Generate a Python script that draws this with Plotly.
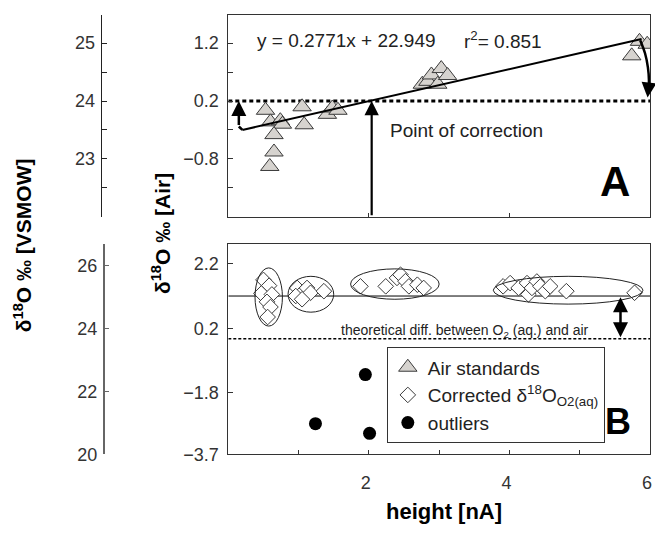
import plotly.graph_objects as go

# ---------------- data ----------------
# Panel A: air standards (height nA, d18O per mil vs Air)
air_x = [0.53, 0.60, 0.74, 0.77, 0.65, 0.65, 0.59, 1.05, 1.08, 1.41, 1.48, 1.56,
         2.76, 2.84, 2.89, 2.98, 3.03, 3.12, 5.74, 5.85, 5.96]
air_y = [0.04, -0.16, -0.14, -0.20, -0.38, -0.68, -0.93, 0.10, -0.21, -0.03, 0.08, 0.04,
         0.49, 0.54, 0.65, 0.49, 0.76, 0.64, 0.98, 1.23, 1.18]

# regression line end points
fit_x = [0.20, 5.88]
fit_y = [-0.30, 1.27]
ref_level_A = 0.2
correction_x = 2.04

# left connector + arrow, right curved arrow
left_conn_x = [0.20, 0.15]
left_conn_y = [-0.30, -0.24]
curve_x = [5.86, 5.93, 5.97, 5.985, 5.975]
curve_y = [1.25, 1.02, 0.78, 0.55, 0.38]

# Panel B: corrected d18O O2(aq)
corr_x = [0.50, 0.58, 0.47, 0.62, 0.55, 0.60, 0.56,
          0.98, 1.05, 0.96, 1.12, 1.17, 1.05, 1.36,
          1.88, 2.24, 2.40, 2.45, 2.52, 2.57, 2.69, 2.78,
          3.91, 4.01, 4.13, 4.25, 4.27, 4.32, 4.39, 4.44, 4.51, 4.58, 4.81, 5.78]
corr_y = [1.70, 1.52, 1.28, 1.25, 1.02, 0.86, 0.55,
          1.45, 1.30, 1.20, 1.45, 1.30, 1.10, 1.35,
          1.50, 1.50, 1.76, 1.86, 1.66, 1.50, 1.55, 1.45,
          1.50, 1.60, 1.45, 1.60, 1.25, 1.45, 1.65, 1.50, 1.35, 1.50, 1.35, 1.30]
out_x = [1.95, 1.24, 2.01]
out_y = [-1.23, -2.75, -3.05]

air_level_B = 1.2
theory_level_B = -0.12
diff_arrow_x = 5.58

# ellipses around groups (x0, x1, y0, y1)
ell_x0 = [0.38, 0.85, 1.74, 3.77]
ell_x1 = [0.77, 1.50, 3.00, 5.90]
ell_y0 = [0.27, 0.70, 1.10, 0.95]
ell_y1 = [2.07, 1.81, 2.04, 1.81]

# axes
A_range = [-1.8, 1.69]
A_ticks = [-0.8, 0.2, 1.2]
A_minor = [-1.3, -0.3, 0.7]
A_vs_range = [22.0, 25.49]
A_vs_ticks = [23, 24, 25]
A_vs_minor = [22.5, 23.5, 24.5]
B_range = [-3.7, 2.8]
B_ticks = [-3.7, -1.8, 0.2, 2.2]
B_vs_range = [20.0, 26.68]
B_vs_ticks = [20, 22, 24, 26]
x_ticks_A = [2, 4, 6]
x_ticks_B = [2, 4, 6]
x_minor_B = [1, 3, 5]

FONT = "Arial, Liberation Sans, sans-serif"
W, H = 655, 534


def px(x):
    return x / W


def py(y):
    return 1 - y / H


dx = [px(229), px(652)]
dA = [py(221), py(15)]
dB = [py(463), py(249)]

fig = go.Figure()

# Panel A traces
fig.add_trace(go.Scatter(x=[0, 6], y=[ref_level_A, ref_level_A], mode="lines",
                         line=dict(color="black", width=3, dash="4px,3px"),
                         showlegend=False, hoverinfo="skip", xaxis="x", yaxis="y"))
fig.add_trace(go.Scatter(x=air_x, y=air_y, mode="markers", name="Air standards",
                         marker=dict(symbol="triangle-up", size=16, color="#d6d3cf",
                                     line=dict(color="#3a3a3a", width=1)),
                         xaxis="x", yaxis="y"))
fig.add_trace(go.Scatter(x=fit_x, y=fit_y, mode="lines",
                         line=dict(color="black", width=2),
                         showlegend=False, hoverinfo="skip", xaxis="x", yaxis="y"))
fig.add_trace(go.Scatter(x=left_conn_x, y=left_conn_y, mode="lines",
                         line=dict(color="black", width=2.5),
                         showlegend=False, hoverinfo="skip", xaxis="x", yaxis="y"))
fig.add_trace(go.Scatter(x=curve_x, y=curve_y, mode="lines",
                         line=dict(color="black", width=2.5, shape="spline"),
                         showlegend=False, hoverinfo="skip", xaxis="x", yaxis="y", cliponaxis=False))

# Panel B traces
fig.add_trace(go.Scatter(x=[0, 6], y=[air_level_B, air_level_B], mode="lines",
                         line=dict(color="black", width=1),
                         showlegend=False, hoverinfo="skip", xaxis="x2", yaxis="y2"))
fig.add_trace(go.Scatter(x=[0, 6], y=[theory_level_B, theory_level_B], mode="lines",
                         line=dict(color="black", width=1.5, dash="3px,2px"),
                         showlegend=False, hoverinfo="skip", xaxis="x2", yaxis="y2"))
fig.add_trace(go.Scatter(x=corr_x, y=corr_y, mode="markers",
                         name="Corrected δ<sup>18</sup>O<sub>O2(aq)</sub>",
                         marker=dict(symbol="diamond", size=12, color="white",
                                     line=dict(color="#3a3a3a", width=1)),
                         xaxis="x2", yaxis="y2"))
fig.add_trace(go.Scatter(x=out_x, y=out_y, mode="markers", name="outliers",
                         marker=dict(symbol="circle", size=13, color="black"),
                         xaxis="x2", yaxis="y2"))

# dummy traces to activate VSMOW axes
fig.add_trace(go.Scatter(x=[None], y=[None], xaxis="x", yaxis="y3", showlegend=False, hoverinfo="skip"))
fig.add_trace(go.Scatter(x=[None], y=[None], xaxis="x2", yaxis="y4", showlegend=False, hoverinfo="skip"))

shapes = []
for x0, x1, y0, y1 in zip(ell_x0, ell_x1, ell_y0, ell_y1):
    shapes.append(dict(type="circle", xref="x2", yref="y2", x0=x0, x1=x1, y0=y0, y1=y1,
                       line=dict(color="#222", width=1)))

tickfont = dict(family=FONT, size=18, color="#333")
axline = "#333"

arrow_common = dict(showarrow=True, arrowhead=2, arrowcolor="black", text="")
annotations = [
    # point of correction arrow
    dict(x=correction_x, y=ref_level_A, ax=correction_x, ay=A_range[0], xref="x", yref="y",
         axref="x", ayref="y", arrowsize=1.3, arrowwidth=2.2, **arrow_common),
    # left arrow up to reference level
    dict(x=left_conn_x[1], y=ref_level_A, ax=left_conn_x[1], ay=left_conn_y[1], xref="x", yref="y",
         axref="x", ayref="y", arrowsize=1.2, arrowwidth=2.5, **arrow_common),
    # right curved arrow head
    dict(x=5.965, y=0.26, ax=curve_x[-1], ay=curve_y[-1], xref="x", yref="y",
         axref="x", ayref="y", arrowsize=1.2, arrowwidth=2.5, **arrow_common),
    # double arrow in B
    dict(x=diff_arrow_x, y=air_level_B - 0.04, ax=diff_arrow_x, ay=theory_level_B, xref="x2", yref="y2",
         axref="x2", ayref="y2", startarrowhead=2, arrowside="end+start",
         arrowsize=1.2, startarrowsize=1.2, arrowwidth=2.5, **arrow_common),
    # texts
    dict(x=0.38, y=1.24, xref="x", yref="y", text="y = 0.2771x + 22.949", showarrow=False,
         xanchor="left", yanchor="middle", font=dict(family=FONT, size=19, color="#222")),
    dict(x=3.32, y=1.26, xref="x", yref="y", text="r<sup>2</sup>= 0.851", showarrow=False,
         xanchor="left", yanchor="middle", font=dict(family=FONT, size=19, color="#222")),
    dict(x=2.27, y=-0.31, xref="x", yref="y", text="Point of correction", showarrow=False,
         xanchor="left", yanchor="middle", font=dict(family=FONT, size=19, color="#222")),
    dict(x=5.5, y=-1.19, xref="x", yref="y", text="<b>A</b>", showarrow=False,
         xanchor="center", yanchor="middle", font=dict(family=FONT, size=42, color="black")),
    dict(x=1.575, y=0.13, xref="x2", yref="y2",
         text="theoretical diff. between O<sub>2</sub> (aq.) and air", showarrow=False,
         xanchor="left", yanchor="middle", font=dict(family=FONT, size=14, color="#222")),
    dict(x=5.55, y=-2.68, xref="x2", yref="y2", text="<b>B</b>", showarrow=False,
         xanchor="center", yanchor="middle", font=dict(family=FONT, size=36, color="black")),
    # axis titles
    dict(x=px(161), y=py(238), xref="paper", yref="paper",
         text="<b>δ<sup>18</sup>O ‰ [Air]</b>", textangle=-90, showarrow=False,
         xanchor="center", yanchor="middle", font=dict(family=FONT, size=21, color="black")),
    dict(x=px(23), y=py(250), xref="paper", yref="paper",
         text="<b>δ<sup>18</sup>O ‰ [VSMOW]</b>", textangle=-90, showarrow=False,
         xanchor="center", yanchor="middle", font=dict(family=FONT, size=21, color="black")),
    dict(x=px(445), y=py(521), xref="paper", yref="paper",
         text="<b>height [nA]</b>", showarrow=False,
         xanchor="center", yanchor="middle", font=dict(family=FONT, size=22, color="black")),
]

fig.update_layout(
    width=W, height=H, autosize=False,
    margin=dict(l=0, r=0, t=0, b=0),
    paper_bgcolor="white", plot_bgcolor="white",
    font=dict(family=FONT, size=18, color="#222"),
    showlegend=True,
    legend=dict(x=px(388), y=py(354), xanchor="left", yanchor="top",
                bordercolor="#333", borderwidth=1, bgcolor="white",
                font=dict(family=FONT, size=19, color="#222"), itemwidth=30,
                tracegroupgap=0),
    xaxis=dict(domain=dx, range=[0, 6], anchor="y", showline=True, linecolor=axline, linewidth=1,
               mirror=True, ticks="inside", ticklen=4, tickcolor=axline, tickvals=x_ticks_A,
               showticklabels=False, showgrid=False, zeroline=False),
    yaxis=dict(domain=dA, range=A_range, anchor="x", showline=True, linecolor=axline, linewidth=1,
               mirror=True, ticks="inside", ticklen=5, tickcolor=axline, tickvals=A_ticks,
               tickformat=".1f", tickfont=tickfont, ticklabelstandoff=5,
               minor=dict(tickvals=A_minor, ticks="inside", ticklen=5, tickcolor=axline, showgrid=False),
               showgrid=False, zeroline=False),
    xaxis2=dict(domain=dx, range=[0, 6], anchor="y2", showline=True, linecolor=axline, linewidth=1,
                mirror=True, ticks="inside", ticklen=4, tickcolor=axline, tickvals=x_ticks_B,
                tickfont=tickfont, ticklabelstandoff=12, ticklabelshift=-3,
                minor=dict(tickvals=x_minor_B, ticks="inside", ticklen=4, tickcolor=axline, showgrid=False),
                showgrid=False, zeroline=False),
    yaxis2=dict(domain=dB, range=B_range, anchor="x2", showline=True, linecolor=axline, linewidth=1,
                mirror=True, ticks="inside", ticklen=5, tickcolor=axline, tickvals=B_ticks,
                tickformat=".1f", tickfont=tickfont, ticklabelstandoff=5,
                showgrid=False, zeroline=False),
    yaxis3=dict(overlaying="y", anchor="free", position=px(101), side="left", range=A_vs_range,
                showline=True, linecolor="#222", linewidth=1, ticks="inside", ticklen=5,
                tickcolor="#222", tickvals=A_vs_ticks, tickfont=tickfont,
                minor=dict(tickvals=A_vs_minor, ticks="inside", ticklen=5, tickcolor="#222", showgrid=False),
                ticklabelstandoff=2, showgrid=False, zeroline=False),
    yaxis4=dict(overlaying="y2", anchor="free", position=px(104), side="left", range=B_vs_range,
                showline=True, linecolor="#666", linewidth=1.5, ticks="inside", ticklen=5,
                tickcolor="#666", tickvals=B_vs_ticks, tickfont=tickfont,
                ticklabelstandoff=2, showgrid=False, zeroline=False),
    shapes=shapes,
    annotations=annotations,
)

fig.write_html(
    "out.html",
    config={"displayModeBar": False},
    post_script=("document.documentElement.style.margin='0';document.body.style.margin='0';"
                 "document.documentElement.style.overflow='hidden';document.body.style.overflow='hidden';"),
)
